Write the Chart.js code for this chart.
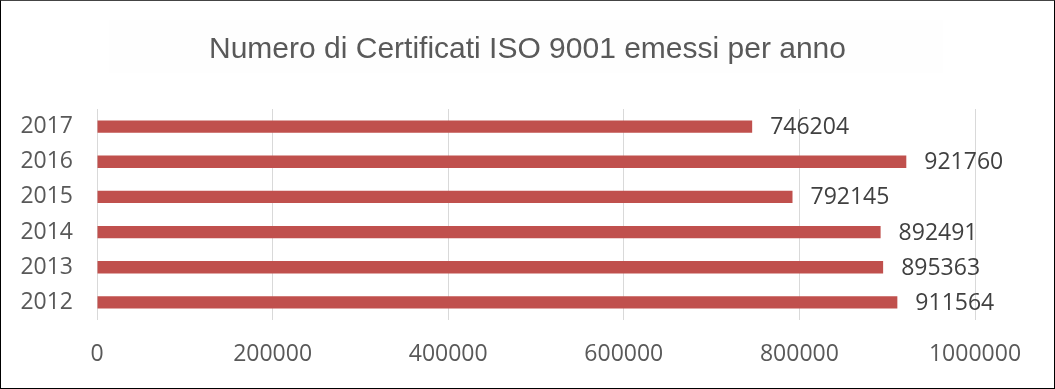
<!DOCTYPE html>
<html>
<head>
<meta charset="utf-8">
<script src="https://cdn.jsdelivr.net/npm/chart.js@4/dist/chart.umd.min.js"></script>
<style>
    body { margin: 0; background: #fff; }
    #box { width: 1053px; height: 387px; border: 1px solid #000; border-top-color: #444; }
</style>
</head>
<body>
<div id="box"><canvas id="chart" width="1053" height="387"></canvas></div>
<script>
const titolo = 'Numero di Certificati ISO 9001 emessi per anno';
const years = ['2012', '2013', '2014', '2015', '2016', '2017'];
const certificati = [911564, 895363, 892491, 792145, 921760, 746204];
const xTicks = [0, 200000, 400000, 600000, 800000, 1000000];

// etichette dei valori a destra delle barre
const valueLabels = {
    id: 'valueLabels',
    afterDatasetsDraw(chart) {
        const ctx = chart.ctx;
        const meta = chart.getDatasetMeta(0);
        ctx.save();
        ctx.font = '23px "Open Sans"';
        ctx.fillStyle = '#404040';
        ctx.textAlign = 'left';
        ctx.textBaseline = 'middle';
        meta.data.forEach((bar, i) => {
            ctx.fillText(String(certificati[i]), bar.x + 18, bar.y + 1);
        });
        ctx.restore();
    }
};

// titolo centrato sulla tela, con una leggera fascia dietro
const titleBand = {
    id: 'titleBand',
    beforeDraw(chart) {
        const ctx = chart.ctx;
        ctx.save();
        ctx.fillStyle = '#fefefe';
        ctx.fillRect(108, 19, 834, 53);
        ctx.font = '30px "Liberation Sans", Arial';
        ctx.fillStyle = '#595959';
        ctx.textAlign = 'center';
        ctx.textBaseline = 'middle';
        ctx.fillText(titolo, chart.width / 2, 49);
        ctx.restore();
    }
};

const ctx = document.getElementById('chart').getContext('2d');
new Chart(ctx, {
    type: 'bar',
    data: {
        labels: years,
        datasets: [{
            data: certificati,
            backgroundColor: '#c0504d',
            barPercentage: 0.35,
            categoryPercentage: 1
        }]
    },
    options: {
        indexAxis: 'y',
        responsive: false,
        animation: false,
        layout: { padding: { left: 0, right: 79, top: 108, bottom: 0 } },
        plugins: {
            legend: { display: false },
            tooltip: { enabled: false },
            title: { display: false }
        },
        scales: {
            x: {
                min: 0,
                max: 1000000,
                afterBuildTicks: s => { s.ticks = xTicks.map(v => ({ value: v })); },
                afterFit: s => { s.height = 68; },
                grid: { color: '#d9d9d9', drawTicks: false },
                border: { display: false },
                ticks: {
                    color: '#595959',
                    font: { family: '"Open Sans"', size: 23 },
                    padding: 21,
                    maxRotation: 0,
                    callback: v => String(v)
                }
            },
            y: {
                reverse: true,
                afterFit: s => { s.width = 96; },
                grid: { display: false, drawTicks: false },
                border: { display: false },
                ticks: {
                    color: '#595959',
                    font: { family: '"Open Sans"', size: 23 },
                    padding: 24
                }
            }
        }
    },
    plugins: [titleBand, valueLabels]
});
</script>
</body>
</html>
